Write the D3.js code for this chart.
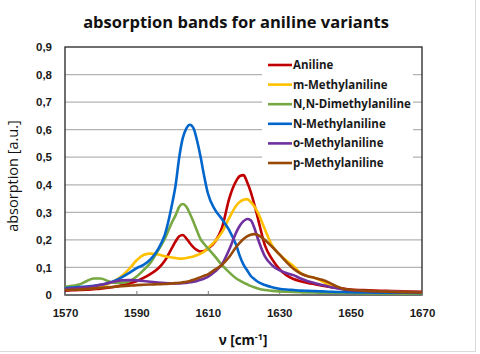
<!DOCTYPE html>
<html lang="en">
<head>
    <meta charset="UTF-8">
    <title>absorption bands for aniline variants</title>
    <script src="https://d3js.org/d3.v7.min.js"></script>
    <style>
        body { margin: 0; background: #fff; }
        svg { display: block; font-family: "Open Sans", sans-serif; }
        .tick-label { font-size: 11.5px; font-weight: bold; fill: #1a1a1a; }
        .legend text { font-size: 11.5px; font-weight: bold; fill: #1a1a1a; }
    </style>
</head>
<body>
    <svg width="480" height="354"></svg>
    <script>
        // wavenumbers (cm-1) shared by all series
        const wavenumbers = [1570,1572,1574,1576,1578,1580,1582,1584,1586,1588,1590,1592,1594,1596,1598,1600,
            1601,1602,1603,1604,1605,1606,1607,1608,1609,1610,1612,1614,1616,1618,
            1619,1620,1621,1622,1623,1624,1626,1628,1630,1632,1634,1636,1638,1640,1642,1644,1646,1648,1650,
            1655,1660,1665,1670];

        const aniline = [.016,.017,.018,.019,.021,.023,.026,.030,.036,.042,.050,.062,.077,.095,.125,.172,
            .195,.213,.218,.205,.188,.173,.163,.158,.160,.168,.192,.245,.350,.415,
            .432,.435,.410,.375,.330,.280,.180,.130,.095,.072,.058,.050,.044,.039,.034,.030,.026,.023,.020,
            .017,.015,.013,.012];
        const mMethyl = [.020,.021,.022,.024,.027,.032,.040,.052,.070,.095,.125,.145,.150,.147,.141,.136,
            .134,.132,.132,.134,.137,.140,.145,.150,.158,.170,.195,.228,.280,.325,
            .338,.346,.348,.338,.322,.300,.238,.180,.148,.125,.105,.080,.068,.062,.050,.037,.027,.020,.016,
            .013,.012,.011,.010];
        const nnDimethyl = [.030,.033,.038,.050,.060,.060,.051,.044,.044,.050,.066,.090,.118,.160,.205,.265,
            .290,.320,.330,.320,.295,.265,.232,.202,.185,.170,.140,.108,.082,.060,
            .052,.045,.039,.033,.028,.024,.018,.015,.013,.012,.011,.010,.009,.009,.008,.008,.008,.007,.007,
            .006,.006,.005,.005];
        const nMethyl = [.025,.027,.029,.031,.033,.037,.043,.052,.065,.080,.097,.109,.130,.165,.220,.330,
            .400,.500,.570,.605,.618,.605,.560,.500,.430,.370,.310,.275,.235,.180,
            .140,.110,.090,.070,.058,.048,.036,.028,.023,.020,.018,.016,.015,.014,.013,.012,.011,.011,.010,
            .009,.008,.008,.007];
        const oMethyl = [.022,.024,.026,.029,.032,.037,.043,.049,.053,.054,.053,.051,.048,.045,.043,.042,
            .042,.042,.043,.044,.046,.048,.051,.055,.060,.066,.085,.112,.165,.228,
            .252,.268,.276,.272,.245,.205,.140,.108,.090,.080,.072,.060,.050,.043,.036,.030,.025,.020,.017,
            .014,.012,.011,.010];
        const pMethyl = [.018,.019,.020,.022,.024,.026,.028,.030,.032,.034,.036,.037,.038,.039,.040,.042,
            .043,.044,.046,.048,.051,.055,.060,.065,.070,.075,.092,.110,.138,.175,
            .190,.203,.213,.219,.221,.218,.200,.175,.148,.120,.095,.078,.068,.062,.055,.045,.032,.023,.019,
            .015,.012,.010,.009];

        const seriesNames = ["Aniline", "m-Methylaniline", "N,N-Dimethylaniline", "N-Methylaniline", "o-Methylaniline", "p-Methylaniline"];
        const seriesValues = [aniline, mMethyl, nnDimethyl, nMethyl, oMethyl, pMethyl];
        const seriesColors = ["#c00000", "#ffc000", "#77a843", "#0066cc", "#7030a0", "#984807"];
        const xTicks = [1570, 1590, 1610, 1630, 1650, 1670];
        const yTicks = [0, 0.1, 0.2, 0.3, 0.4, 0.5, 0.6, 0.7, 0.8, 0.9];

        const margin = {top: 47, left: 65};
        const width = 357, height = 248;

        const svg = d3.select("svg");

        // outer chart frame
        svg.append("rect")
            .attr("x", -1).attr("y", -1)
            .attr("width", 476.5).attr("height", 352.5)
            .attr("fill", "none")
            .attr("stroke", "#d9d9d9");

        svg.append("text")
            .attr("x", 236).attr("y", 28)
            .attr("text-anchor", "middle")
            .style("font-size", "16.5px")
            .style("font-weight", "bold")
            .attr("fill", "#111")
            .text("absorption bands for aniline variants");

        const g = svg.append("g")
            .attr("transform", `translate(${margin.left},${margin.top})`);

        const x = d3.scaleLinear().domain([1570, 1670]).range([0, width]);
        const y = d3.scaleLinear().domain([0, 0.9]).range([height, 0]);

        // gridlines
        g.selectAll(".grid")
            .data(yTicks.slice(1, -1))
            .enter().append("line")
            .attr("x1", 0).attr("x2", width)
            .attr("y1", d => y(d)).attr("y2", d => y(d))
            .attr("stroke", "#b3b3b3")
            .attr("stroke-width", 1.3);

        // plot border
        g.append("rect")
            .attr("width", width).attr("height", height)
            .attr("fill", "none")
            .attr("stroke", "#222")
            .attr("stroke-width", 1.3);

        const yAxis = g.append("g")
            .call(d3.axisLeft(y).tickValues(yTicks).tickSize(0).tickPadding(13)
                .tickFormat(d => d === 0 ? "0" : d3.format(".1f")(d).replace(".", ",")));
        yAxis.select(".domain").remove();
        yAxis.selectAll("text").attr("class", "tick-label").attr("fill", "#1a1a1a");

        const xAxis = g.append("g")
            .attr("transform", `translate(0,${height})`)
            .call(d3.axisBottom(x).tickValues(xTicks).tickSize(-4).tickPadding(14).tickFormat(d3.format("d")));
        xAxis.select(".domain").remove();
        xAxis.selectAll("line").attr("stroke", "#777");
        xAxis.selectAll("text").attr("class", "tick-label").attr("fill", "#1a1a1a");

        const line = d3.line()
            .x((d, i) => x(wavenumbers[i]))
            .y(d => y(d))
            .curve(d3.curveMonotoneX);

        g.selectAll(".series")
            .data(seriesValues)
            .enter().append("path")
            .attr("class", "series")
            .attr("d", d => line(d))
            .attr("fill", "none")
            .attr("stroke", (d, i) => seriesColors[i])
            .attr("stroke-width", 2.6)
            .attr("stroke-linejoin", "round");

        // legend
        const legend = svg.append("g").attr("class", "legend");
        legend.append("rect")
            .attr("x", 262).attr("y", 55)
            .attr("width", 151).attr("height", 121)
            .attr("fill", "#fff");
        const items = legend.selectAll(".item")
            .data(seriesNames)
            .enter().append("g")
            .attr("transform", (d, i) => `translate(268,${65 + i * 19.6})`);
        items.append("line")
            .attr("x1", 0).attr("x2", 24)
            .attr("stroke", (d, i) => seriesColors[i])
            .attr("stroke-width", 2.6);
        items.append("text")
            .attr("x", 25).attr("dy", "0.35em")
            .text(d => d);

        // axis titles
        svg.append("text")
            .attr("transform", "translate(18,176) rotate(-90)")
            .attr("text-anchor", "middle")
            .style("font-size", "14.5px")
            .attr("fill", "#111")
            .text("absorption [a.u.]");

        const xt = svg.append("text")
            .attr("x", 243).attr("y", 345)
            .attr("text-anchor", "middle")
            .style("font-size", "13.5px")
            .style("font-weight", "bold")
            .attr("fill", "#111");
        xt.append("tspan").text("ν [cm");
        xt.append("tspan").attr("dy", -5).style("font-size", "9px").text("-1");
        xt.append("tspan").attr("dy", 5).text("]");
    </script>
</body>
</html>
